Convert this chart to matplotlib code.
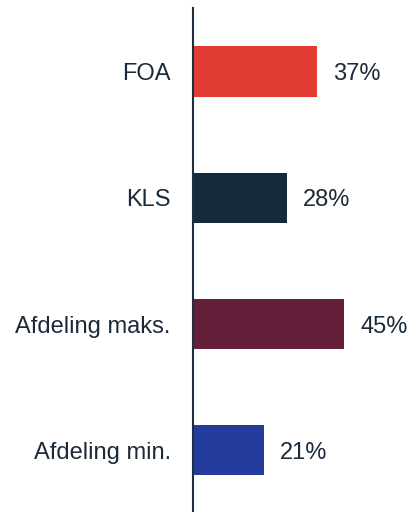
import matplotlib.pyplot as plt

categories = ["FOA", "KLS", "Afdeling maks.", "Afdeling min."]
values = [37, 28, 45, 21]
colors = ["#E03C31", "#152A3D", "#641F3B", "#243C9E"]

text_col = "#1B2A3A"
plt.rcParams['font.family'] = ['Liberation Sans', 'DejaVu Sans']

fig = plt.figure(figsize=(4.09, 5.12), dpi=100)
ax = fig.add_axes([0.472, 0.0, 0.528, 0.984])

pos = list(range(len(categories)))
ax.barh(pos, values, height=0.40, color=colors)

for p, v in zip(pos, values):
    ax.annotate(f"{v}%", (v, p), xytext=(11.5, 0), textcoords="offset points",
                va="center_baseline", ha="left", fontsize=17, color=text_col)

ax.set_xlim(0, 64.3)
ax.set_ylim(3.49, -0.503)
ax.set_yticks(pos)
ax.set_yticklabels(categories, fontsize=17, color=text_col, va="center_baseline")
ax.tick_params(axis="y", length=0, pad=16)
ax.set_xticks([])

for s in ["top", "right", "bottom"]:
    ax.spines[s].set_visible(False)
ax.spines["left"].set_color("#1F2F3F")
ax.spines["left"].set_linewidth(1.5)

fig.savefig("out.png", dpi=100)
